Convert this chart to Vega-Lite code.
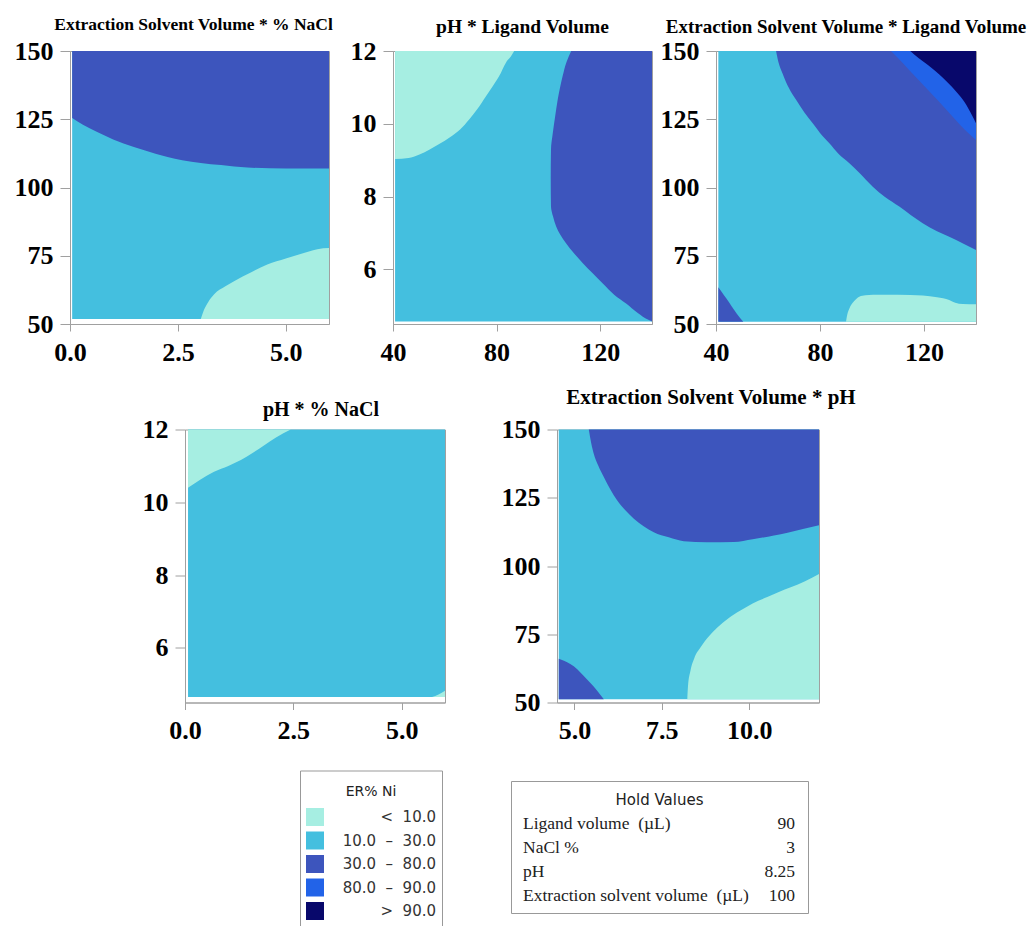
{
  "$schema": "https://vega.github.io/schema/vega-lite/v6.json",
  "padding": {"top": 15, "left": 13, "right": 3, "bottom": 0},
  "background": "white",
  "datasets": {
    "bg": [
      {"p": "p1", "level": "10-30", "x": 0.05, "x2": 6, "y": 51.8, "y2": 150},
      {"p": "p2", "level": "10-30", "x": 40.8, "x2": 140, "y": 4.57, "y2": 12},
      {"p": "p3", "level": "10-30", "x": 40.9, "x2": 140, "y": 50.85, "y2": 150},
      {"p": "p4", "level": "10-30", "x": 0.07, "x2": 6, "y": 4.65, "y2": 12},
      {"p": "p5", "level": "10-30", "x": 4.55, "x2": 12, "y": 51.2, "y2": 150}
    ],
    "v": [
      {"p": "p1", "r": "a", "level": "30-80", "x": 0.05, "y": 125.5, "y2": 150},
      {"p": "p1", "r": "a", "level": "30-80", "x": 0.3, "y": 123, "y2": 150},
      {"p": "p1", "r": "a", "level": "30-80", "x": 0.63, "y": 120.3, "y2": 150},
      {"p": "p1", "r": "a", "level": "30-80", "x": 1, "y": 117.6, "y2": 150},
      {"p": "p1", "r": "a", "level": "30-80", "x": 1.48, "y": 114.8, "y2": 150},
      {"p": "p1", "r": "a", "level": "30-80", "x": 2, "y": 112.3, "y2": 150},
      {"p": "p1", "r": "a", "level": "30-80", "x": 2.26, "y": 111.2, "y2": 150},
      {"p": "p1", "r": "a", "level": "30-80", "x": 2.6, "y": 110, "y2": 150},
      {"p": "p1", "r": "a", "level": "30-80", "x": 3.03, "y": 109, "y2": 150},
      {"p": "p1", "r": "a", "level": "30-80", "x": 3.5, "y": 108.2, "y2": 150},
      {"p": "p1", "r": "a", "level": "30-80", "x": 4.11, "y": 107.3, "y2": 150},
      {"p": "p1", "r": "a", "level": "30-80", "x": 5, "y": 107, "y2": 150},
      {"p": "p1", "r": "a", "level": "30-80", "x": 6, "y": 107, "y2": 150},
      {"p": "p1", "r": "b", "level": "<10", "x": 3.03, "y": 51.8, "y2": 51.8},
      {"p": "p1", "r": "b", "level": "<10", "x": 3.1, "y": 51.8, "y2": 55},
      {"p": "p1", "r": "b", "level": "<10", "x": 3.2, "y": 51.8, "y2": 58},
      {"p": "p1", "r": "b", "level": "<10", "x": 3.34, "y": 51.8, "y2": 60.9},
      {"p": "p1", "r": "b", "level": "<10", "x": 3.6, "y": 51.8, "y2": 63.8},
      {"p": "p1", "r": "b", "level": "<10", "x": 3.8, "y": 51.8, "y2": 65.7},
      {"p": "p1", "r": "b", "level": "<10", "x": 4.2, "y": 51.8, "y2": 69},
      {"p": "p1", "r": "b", "level": "<10", "x": 4.57, "y": 51.8, "y2": 71.8},
      {"p": "p1", "r": "b", "level": "<10", "x": 5, "y": 51.8, "y2": 74},
      {"p": "p1", "r": "b", "level": "<10", "x": 5.34, "y": 51.8, "y2": 75.6},
      {"p": "p1", "r": "b", "level": "<10", "x": 5.73, "y": 51.8, "y2": 77.4},
      {"p": "p1", "r": "b", "level": "<10", "x": 6, "y": 51.8, "y2": 77.8},

      {"p": "p2", "r": "a", "level": "<10", "x": 40.8, "y": 9.03, "y2": 12},
      {"p": "p2", "r": "a", "level": "<10", "x": 46, "y": 9.06, "y2": 12},
      {"p": "p2", "r": "a", "level": "<10", "x": 50, "y": 9.15, "y2": 12},
      {"p": "p2", "r": "a", "level": "<10", "x": 54, "y": 9.29, "y2": 12},
      {"p": "p2", "r": "a", "level": "<10", "x": 58, "y": 9.45, "y2": 12},
      {"p": "p2", "r": "a", "level": "<10", "x": 62, "y": 9.63, "y2": 12},
      {"p": "p2", "r": "a", "level": "<10", "x": 66, "y": 9.85, "y2": 12},
      {"p": "p2", "r": "a", "level": "<10", "x": 69.4, "y": 10.12, "y2": 12},
      {"p": "p2", "r": "a", "level": "<10", "x": 72.5, "y": 10.4, "y2": 12},
      {"p": "p2", "r": "a", "level": "<10", "x": 75.9, "y": 10.76, "y2": 12},
      {"p": "p2", "r": "a", "level": "<10", "x": 78.5, "y": 11.03, "y2": 12},
      {"p": "p2", "r": "a", "level": "<10", "x": 81, "y": 11.31, "y2": 12},
      {"p": "p2", "r": "a", "level": "<10", "x": 83.6, "y": 11.68, "y2": 12},
      {"p": "p2", "r": "a", "level": "<10", "x": 85.5, "y": 11.85, "y2": 12},
      {"p": "p2", "r": "a", "level": "<10", "x": 86.8, "y": 12, "y2": 12},

      {"p": "p3", "r": "a", "level": "30-80", "x": 63.1, "y": 150, "y2": 150},
      {"p": "p3", "r": "a", "level": "30-80", "x": 64, "y": 146, "y2": 150},
      {"p": "p3", "r": "a", "level": "30-80", "x": 65.6, "y": 141.8, "y2": 150},
      {"p": "p3", "r": "a", "level": "30-80", "x": 68, "y": 136.5, "y2": 150},
      {"p": "p3", "r": "a", "level": "30-80", "x": 70.8, "y": 132.1, "y2": 150},
      {"p": "p3", "r": "a", "level": "30-80", "x": 74, "y": 127.5, "y2": 150},
      {"p": "p3", "r": "a", "level": "30-80", "x": 77.2, "y": 123.5, "y2": 150},
      {"p": "p3", "r": "a", "level": "30-80", "x": 80, "y": 120, "y2": 150},
      {"p": "p3", "r": "a", "level": "30-80", "x": 83.6, "y": 116.2, "y2": 150},
      {"p": "p3", "r": "a", "level": "30-80", "x": 87, "y": 112.5, "y2": 150},
      {"p": "p3", "r": "a", "level": "30-80", "x": 91.3, "y": 108.9, "y2": 150},
      {"p": "p3", "r": "a", "level": "30-80", "x": 95, "y": 105.5, "y2": 150},
      {"p": "p3", "r": "a", "level": "30-80", "x": 100.3, "y": 100.3, "y2": 150},
      {"p": "p3", "r": "a", "level": "30-80", "x": 105, "y": 96.5, "y2": 150},
      {"p": "p3", "r": "a", "level": "30-80", "x": 110.5, "y": 93, "y2": 150},
      {"p": "p3", "r": "a", "level": "30-80", "x": 115, "y": 89.8, "y2": 150},
      {"p": "p3", "r": "a", "level": "30-80", "x": 119.5, "y": 86.9, "y2": 150},
      {"p": "p3", "r": "a", "level": "30-80", "x": 125, "y": 84, "y2": 150},
      {"p": "p3", "r": "a", "level": "30-80", "x": 129.7, "y": 82, "y2": 150},
      {"p": "p3", "r": "a", "level": "30-80", "x": 135, "y": 79.5, "y2": 150},
      {"p": "p3", "r": "a", "level": "30-80", "x": 140, "y": 77.1, "y2": 150},
      {"p": "p3", "r": "d", "level": "30-80", "x": 40.9, "y": 50.85, "y2": 63.5},
      {"p": "p3", "r": "d", "level": "30-80", "x": 42, "y": 50.85, "y2": 62},
      {"p": "p3", "r": "d", "level": "30-80", "x": 44, "y": 50.85, "y2": 59.3},
      {"p": "p3", "r": "d", "level": "30-80", "x": 46, "y": 50.85, "y2": 56.5},
      {"p": "p3", "r": "d", "level": "30-80", "x": 48, "y": 50.85, "y2": 53.8},
      {"p": "p3", "r": "d", "level": "30-80", "x": 50.5, "y": 50.85, "y2": 50.85},
      {"p": "p3", "r": "e", "level": "<10", "x": 90, "y": 50.85, "y2": 50.85},
      {"p": "p3", "r": "e", "level": "<10", "x": 90.5, "y": 50.85, "y2": 53.5},
      {"p": "p3", "r": "e", "level": "<10", "x": 91.3, "y": 50.85, "y2": 55.7},
      {"p": "p3", "r": "e", "level": "<10", "x": 93, "y": 50.85, "y2": 58.2},
      {"p": "p3", "r": "e", "level": "<10", "x": 95.1, "y": 50.85, "y2": 60},
      {"p": "p3", "r": "e", "level": "<10", "x": 97.5, "y": 50.85, "y2": 60.5},
      {"p": "p3", "r": "e", "level": "<10", "x": 100.3, "y": 50.85, "y2": 60.7},
      {"p": "p3", "r": "e", "level": "<10", "x": 110, "y": 50.85, "y2": 60.7},
      {"p": "p3", "r": "e", "level": "<10", "x": 119.5, "y": 50.85, "y2": 60.4},
      {"p": "p3", "r": "e", "level": "<10", "x": 125, "y": 50.85, "y2": 59.8},
      {"p": "p3", "r": "e", "level": "<10", "x": 129.7, "y": 50.85, "y2": 58.8},
      {"p": "p3", "r": "e", "level": "<10", "x": 132, "y": 50.85, "y2": 57.8},
      {"p": "p3", "r": "e", "level": "<10", "x": 134.9, "y": 50.85, "y2": 57.3},
      {"p": "p3", "r": "e", "level": "<10", "x": 140, "y": 50.85, "y2": 57.2},
      {"p": "p3", "r": "b", "level": "80-90", "x": 107.3, "y": 150, "y2": 150},
      {"p": "p3", "r": "b", "level": "80-90", "x": 110, "y": 147.4, "y2": 150},
      {"p": "p3", "r": "b", "level": "80-90", "x": 114, "y": 143.3, "y2": 150},
      {"p": "p3", "r": "b", "level": "80-90", "x": 118, "y": 139.3, "y2": 150},
      {"p": "p3", "r": "b", "level": "80-90", "x": 122, "y": 135.3, "y2": 150},
      {"p": "p3", "r": "b", "level": "80-90", "x": 126, "y": 131.2, "y2": 150},
      {"p": "p3", "r": "b", "level": "80-90", "x": 130, "y": 127, "y2": 150},
      {"p": "p3", "r": "b", "level": "80-90", "x": 134, "y": 122.8, "y2": 150},
      {"p": "p3", "r": "b", "level": "80-90", "x": 137, "y": 120, "y2": 150},
      {"p": "p3", "r": "b", "level": "80-90", "x": 140, "y": 117.4, "y2": 150},
      {"p": "p3", "r": "c", "level": ">90", "x": 114.7, "y": 150, "y2": 150},
      {"p": "p3", "r": "c", "level": ">90", "x": 118, "y": 147.3, "y2": 150},
      {"p": "p3", "r": "c", "level": ">90", "x": 122.7, "y": 144, "y2": 150},
      {"p": "p3", "r": "c", "level": ">90", "x": 126, "y": 141.3, "y2": 150},
      {"p": "p3", "r": "c", "level": ">90", "x": 129.1, "y": 138.5, "y2": 150},
      {"p": "p3", "r": "c", "level": ">90", "x": 132.5, "y": 135, "y2": 150},
      {"p": "p3", "r": "c", "level": ">90", "x": 135.5, "y": 131.4, "y2": 150},
      {"p": "p3", "r": "c", "level": ">90", "x": 138.7, "y": 126, "y2": 150},
      {"p": "p3", "r": "c", "level": ">90", "x": 140, "y": 123.5, "y2": 150},

      {"p": "p4", "r": "a", "level": "<10", "x": 0.07, "y": 10.4, "y2": 12},
      {"p": "p4", "r": "a", "level": "<10", "x": 0.35, "y": 10.62, "y2": 12},
      {"p": "p4", "r": "a", "level": "<10", "x": 0.67, "y": 10.84, "y2": 12},
      {"p": "p4", "r": "a", "level": "<10", "x": 1, "y": 11, "y2": 12},
      {"p": "p4", "r": "a", "level": "<10", "x": 1.29, "y": 11.16, "y2": 12},
      {"p": "p4", "r": "a", "level": "<10", "x": 1.55, "y": 11.35, "y2": 12},
      {"p": "p4", "r": "a", "level": "<10", "x": 1.83, "y": 11.57, "y2": 12},
      {"p": "p4", "r": "a", "level": "<10", "x": 2.1, "y": 11.78, "y2": 12},
      {"p": "p4", "r": "a", "level": "<10", "x": 2.44, "y": 12, "y2": 12},
      {"p": "p4", "r": "b", "level": "<10", "x": 5.7, "y": 4.65, "y2": 4.65},
      {"p": "p4", "r": "b", "level": "<10", "x": 5.85, "y": 4.65, "y2": 4.72},
      {"p": "p4", "r": "b", "level": "<10", "x": 6, "y": 4.65, "y2": 4.82},

      {"p": "p5", "r": "a", "level": "30-80", "x": 5.41, "y": 150, "y2": 150},
      {"p": "p5", "r": "a", "level": "30-80", "x": 5.48, "y": 145, "y2": 150},
      {"p": "p5", "r": "a", "level": "30-80", "x": 5.55, "y": 141.2, "y2": 150},
      {"p": "p5", "r": "a", "level": "30-80", "x": 5.68, "y": 136.8, "y2": 150},
      {"p": "p5", "r": "a", "level": "30-80", "x": 5.84, "y": 132.6, "y2": 150},
      {"p": "p5", "r": "a", "level": "30-80", "x": 6.02, "y": 128.2, "y2": 150},
      {"p": "p5", "r": "a", "level": "30-80", "x": 6.22, "y": 124.1, "y2": 150},
      {"p": "p5", "r": "a", "level": "30-80", "x": 6.45, "y": 120.5, "y2": 150},
      {"p": "p5", "r": "a", "level": "30-80", "x": 6.7, "y": 117.3, "y2": 150},
      {"p": "p5", "r": "a", "level": "30-80", "x": 6.98, "y": 114.6, "y2": 150},
      {"p": "p5", "r": "a", "level": "30-80", "x": 7.27, "y": 112.4, "y2": 150},
      {"p": "p5", "r": "a", "level": "30-80", "x": 7.7, "y": 110.5, "y2": 150},
      {"p": "p5", "r": "a", "level": "30-80", "x": 8.13, "y": 109.1, "y2": 150},
      {"p": "p5", "r": "a", "level": "30-80", "x": 8.8, "y": 108.7, "y2": 150},
      {"p": "p5", "r": "a", "level": "30-80", "x": 9.56, "y": 108.8, "y2": 150},
      {"p": "p5", "r": "a", "level": "30-80", "x": 10.1, "y": 109.8, "y2": 150},
      {"p": "p5", "r": "a", "level": "30-80", "x": 10.71, "y": 111.2, "y2": 150},
      {"p": "p5", "r": "a", "level": "30-80", "x": 11.1, "y": 112.2, "y2": 150},
      {"p": "p5", "r": "a", "level": "30-80", "x": 11.57, "y": 113.6, "y2": 150},
      {"p": "p5", "r": "a", "level": "30-80", "x": 12, "y": 114.9, "y2": 150},
      {"p": "p5", "r": "b", "level": "<10", "x": 8.23, "y": 51.2, "y2": 51.2},
      {"p": "p5", "r": "b", "level": "<10", "x": 8.25, "y": 51.2, "y2": 56},
      {"p": "p5", "r": "b", "level": "<10", "x": 8.32, "y": 51.2, "y2": 61.6},
      {"p": "p5", "r": "b", "level": "<10", "x": 8.43, "y": 51.2, "y2": 66.2},
      {"p": "p5", "r": "b", "level": "<10", "x": 8.61, "y": 51.2, "y2": 70.2},
      {"p": "p5", "r": "b", "level": "<10", "x": 8.83, "y": 51.2, "y2": 74},
      {"p": "p5", "r": "b", "level": "<10", "x": 9.09, "y": 51.2, "y2": 77.5},
      {"p": "p5", "r": "b", "level": "<10", "x": 9.4, "y": 51.2, "y2": 80.8},
      {"p": "p5", "r": "b", "level": "<10", "x": 9.75, "y": 51.2, "y2": 83.7},
      {"p": "p5", "r": "b", "level": "<10", "x": 10.1, "y": 51.2, "y2": 86.3},
      {"p": "p5", "r": "b", "level": "<10", "x": 10.52, "y": 51.2, "y2": 88.6},
      {"p": "p5", "r": "b", "level": "<10", "x": 10.85, "y": 51.2, "y2": 90.5},
      {"p": "p5", "r": "b", "level": "<10", "x": 11.19, "y": 51.2, "y2": 92.2},
      {"p": "p5", "r": "b", "level": "<10", "x": 11.6, "y": 51.2, "y2": 94.4},
      {"p": "p5", "r": "b", "level": "<10", "x": 12, "y": 51.2, "y2": 97.1},
      {"p": "p5", "r": "c", "level": "30-80", "x": 4.55, "y": 51.2, "y2": 66},
      {"p": "p5", "r": "c", "level": "30-80", "x": 4.7, "y": 51.2, "y2": 65.3},
      {"p": "p5", "r": "c", "level": "30-80", "x": 4.88, "y": 51.2, "y2": 64.1},
      {"p": "p5", "r": "c", "level": "30-80", "x": 5.08, "y": 51.2, "y2": 62.2},
      {"p": "p5", "r": "c", "level": "30-80", "x": 5.26, "y": 51.2, "y2": 59.8},
      {"p": "p5", "r": "c", "level": "30-80", "x": 5.45, "y": 51.2, "y2": 57.2},
      {"p": "p5", "r": "c", "level": "30-80", "x": 5.65, "y": 51.2, "y2": 54.3},
      {"p": "p5", "r": "c", "level": "30-80", "x": 5.84, "y": 51.2, "y2": 51.2}
    ],
    "h": [
      {"p": "p2", "r": "b", "level": "30-80", "y": 4.57, "x": 140, "x2": 140},
      {"p": "p2", "r": "b", "level": "30-80", "y": 4.6, "x": 139, "x2": 140},
      {"p": "p2", "r": "b", "level": "30-80", "y": 4.8, "x": 134.5, "x2": 140},
      {"p": "p2", "r": "b", "level": "30-80", "y": 5.06, "x": 130, "x2": 140},
      {"p": "p2", "r": "b", "level": "30-80", "y": 5.3, "x": 125.5, "x2": 140},
      {"p": "p2", "r": "b", "level": "30-80", "y": 5.61, "x": 121, "x2": 140},
      {"p": "p2", "r": "b", "level": "30-80", "y": 5.9, "x": 117, "x2": 140},
      {"p": "p2", "r": "b", "level": "30-80", "y": 6.17, "x": 113.3, "x2": 140},
      {"p": "p2", "r": "b", "level": "30-80", "y": 6.45, "x": 109.8, "x2": 140},
      {"p": "p2", "r": "b", "level": "30-80", "y": 6.72, "x": 106.8, "x2": 140},
      {"p": "p2", "r": "b", "level": "30-80", "y": 6.95, "x": 104.6, "x2": 140},
      {"p": "p2", "r": "b", "level": "30-80", "y": 7.18, "x": 103, "x2": 140},
      {"p": "p2", "r": "b", "level": "30-80", "y": 7.45, "x": 101.8, "x2": 140},
      {"p": "p2", "r": "b", "level": "30-80", "y": 7.73, "x": 101, "x2": 140},
      {"p": "p2", "r": "b", "level": "30-80", "y": 8.5, "x": 100.9, "x2": 140},
      {"p": "p2", "r": "b", "level": "30-80", "y": 9.29, "x": 101, "x2": 140},
      {"p": "p2", "r": "b", "level": "30-80", "y": 9.75, "x": 101.7, "x2": 140},
      {"p": "p2", "r": "b", "level": "30-80", "y": 10.2, "x": 102.6, "x2": 140},
      {"p": "p2", "r": "b", "level": "30-80", "y": 10.67, "x": 103.6, "x2": 140},
      {"p": "p2", "r": "b", "level": "30-80", "y": 11, "x": 104.5, "x2": 140},
      {"p": "p2", "r": "b", "level": "30-80", "y": 11.31, "x": 105.5, "x2": 140},
      {"p": "p2", "r": "b", "level": "30-80", "y": 11.7, "x": 107, "x2": 140},
      {"p": "p2", "r": "b", "level": "30-80", "y": 12, "x": 108.8, "x2": 140}
    ],
    "hold": [
      {"row": "r1", "name": "Ligand volume\u00a0\u00a0(µL)", "value": "90"},
      {"row": "r2", "name": "NaCl %", "value": "3"},
      {"row": "r3", "name": "pH", "value": "8.25"},
      {"row": "r4", "name": "Extraction solvent volume\u00a0\u00a0(µL)", "value": "100"}
    ]
  },
  "vconcat": [
    {
      "hconcat": [
        {
          "width": 259, "height": 273,
          "title": {"text": "Extraction Solvent Volume * % NaCl", "fontSize": 17.5, "offset": -9.1, "dx": -6, "anchor": "middle", "frame": "group", "baseline": "alphabetic"},
          "encoding": {
            "x": {"field": "x", "type": "quantitative", "scale": {"domain": [0, 6], "nice": false}, "axis": {"values": [0, 2.5, 5], "format": ".1f", "title": null}},
            "y": {"field": "y", "type": "quantitative", "stack": null, "scale": {"domain": [50, 150], "nice": false}, "axis": {"values": [50, 75, 100, 125, 150], "title": null}},
            "color": {"field": "level", "type": "nominal",
              "scale": {"domain": ["<10", "10-30", "30-80", "80-90", ">90"], "range": ["#a6eee2", "#44bfdf", "#3d55bd", "#2263e8", "#08086b"]},
              "legend": {"title": ["", "ER% Ni"], "labelExpr": "datum.label == '<10' ? '<\u00a0\u00a010.0' : datum.label == '10-30' ? '10.0\u00a0\u00a0–\u00a0\u00a030.0' : datum.label == '30-80' ? '30.0\u00a0\u00a0–\u00a0\u00a080.0' : datum.label == '80-90' ? '80.0\u00a0\u00a0–\u00a0\u00a090.0' : '>\u00a0\u00a090.0'"}}
          },
          "layer": [
            {"data": {"name": "bg"}, "transform": [{"filter": "datum.p == 'p1'"}], "mark": "rect", "encoding": {"x2": {"field": "x2"}, "y2": {"field": "y2"}}},
            {"data": {"name": "v"}, "transform": [{"filter": "datum.p == 'p1'"}], "mark": {"type": "area", "interpolate": "monotone"}, "encoding": {"y2": {"field": "y2"}, "detail": {"field": "r"}}}
          ]
        },
        {
          "width": 259, "height": 273,
          "title": {"text": "pH * Ligand Volume", "fontSize": 19.5, "offset": -14.5, "anchor": "middle", "frame": "group", "baseline": "alphabetic"},
          "encoding": {
            "x": {"field": "x", "type": "quantitative", "scale": {"domain": [40, 140], "nice": false}, "axis": {"values": [40, 80, 120], "title": null}},
            "y": {"field": "y", "type": "quantitative", "stack": null, "scale": {"domain": [4.5, 12], "nice": false}, "axis": {"values": [6, 8, 10, 12], "title": null}},
            "color": {"field": "level", "type": "nominal",
              "scale": {"domain": ["<10", "10-30", "30-80", "80-90", ">90"], "range": ["#a6eee2", "#44bfdf", "#3d55bd", "#2263e8", "#08086b"]},
              "legend": {"title": ["", "ER% Ni"], "labelExpr": "datum.label == '<10' ? '<\u00a0\u00a010.0' : datum.label == '10-30' ? '10.0\u00a0\u00a0–\u00a0\u00a030.0' : datum.label == '30-80' ? '30.0\u00a0\u00a0–\u00a0\u00a080.0' : datum.label == '80-90' ? '80.0\u00a0\u00a0–\u00a0\u00a090.0' : '>\u00a0\u00a090.0'"}}
          },
          "layer": [
            {"data": {"name": "bg"}, "transform": [{"filter": "datum.p == 'p2'"}], "mark": "rect", "encoding": {"x2": {"field": "x2"}, "y2": {"field": "y2"}}},
            {"data": {"name": "v"}, "transform": [{"filter": "datum.p == 'p2'"}], "mark": {"type": "area", "interpolate": "monotone"}, "encoding": {"y2": {"field": "y2"}, "detail": {"field": "r"}}},
            {"data": {"name": "h"}, "transform": [{"filter": "datum.p == 'p2'"}], "mark": {"type": "area", "orient": "horizontal", "interpolate": "monotone"}, "encoding": {"x2": {"field": "x2"}, "detail": {"field": "r"}}}
          ]
        },
        {
          "width": 260, "height": 273,
          "title": {"text": "Extraction Solvent Volume * Ligand Volume", "fontSize": 19, "offset": -13.8, "anchor": "middle", "frame": "group", "baseline": "alphabetic"},
          "encoding": {
            "x": {"field": "x", "type": "quantitative", "scale": {"domain": [40, 140], "nice": false}, "axis": {"values": [40, 80, 120], "title": null}},
            "y": {"field": "y", "type": "quantitative", "stack": null, "scale": {"domain": [50, 150], "nice": false}, "axis": {"values": [50, 75, 100, 125, 150], "title": null}},
            "color": {"field": "level", "type": "nominal",
              "scale": {"domain": ["<10", "10-30", "30-80", "80-90", ">90"], "range": ["#a6eee2", "#44bfdf", "#3d55bd", "#2263e8", "#08086b"]},
              "legend": {"title": ["", "ER% Ni"], "labelExpr": "datum.label == '<10' ? '<\u00a0\u00a010.0' : datum.label == '10-30' ? '10.0\u00a0\u00a0–\u00a0\u00a030.0' : datum.label == '30-80' ? '30.0\u00a0\u00a0–\u00a0\u00a080.0' : datum.label == '80-90' ? '80.0\u00a0\u00a0–\u00a0\u00a090.0' : '>\u00a0\u00a090.0'"}}
          },
          "layer": [
            {"data": {"name": "bg"}, "transform": [{"filter": "datum.p == 'p3'"}], "mark": "rect", "encoding": {"x2": {"field": "x2"}, "y2": {"field": "y2"}}},
            {"data": {"name": "v"}, "transform": [{"filter": "datum.p == 'p3' && (datum.r == 'a' || datum.r == 'd' || datum.r == 'e')"}], "mark": {"type": "area", "interpolate": "monotone"}, "encoding": {"y2": {"field": "y2"}, "detail": {"field": "r"}}},
            {"data": {"name": "v"}, "transform": [{"filter": "datum.p == 'p3' && datum.r == 'b'"}], "mark": {"type": "area", "interpolate": "monotone"}, "encoding": {"y2": {"field": "y2"}, "detail": {"field": "r"}}},
            {"data": {"name": "v"}, "transform": [{"filter": "datum.p == 'p3' && datum.r == 'c'"}], "mark": {"type": "area", "interpolate": "monotone"}, "encoding": {"y2": {"field": "y2"}, "detail": {"field": "r"}}}
          ]
        }
      ],
      "spacing": 64,
      "bounds": "flush"
    },
    {
      "hconcat": [
        {"width": 3, "height": 1, "view": {"stroke": null}, "data": {"values": []}, "mark": "point"},
        {
          "width": 260, "height": 273,
          "title": {"text": "pH * % NaCl", "fontSize": 20, "offset": -19.3, "dx": 6, "anchor": "middle", "frame": "group", "baseline": "alphabetic"},
          "encoding": {
            "x": {"field": "x", "type": "quantitative", "scale": {"domain": [0, 6], "nice": false}, "axis": {"values": [0, 2.5, 5], "format": ".1f", "title": null}},
            "y": {"field": "y", "type": "quantitative", "stack": null, "scale": {"domain": [4.5, 12], "nice": false}, "axis": {"values": [6, 8, 10, 12], "title": null}},
            "color": {"field": "level", "type": "nominal",
              "scale": {"domain": ["<10", "10-30", "30-80", "80-90", ">90"], "range": ["#a6eee2", "#44bfdf", "#3d55bd", "#2263e8", "#08086b"]},
              "legend": {"title": ["", "ER% Ni"], "labelExpr": "datum.label == '<10' ? '<\u00a0\u00a010.0' : datum.label == '10-30' ? '10.0\u00a0\u00a0–\u00a0\u00a030.0' : datum.label == '30-80' ? '30.0\u00a0\u00a0–\u00a0\u00a080.0' : datum.label == '80-90' ? '80.0\u00a0\u00a0–\u00a0\u00a090.0' : '>\u00a0\u00a090.0'"}}
          },
          "layer": [
            {"data": {"name": "bg"}, "transform": [{"filter": "datum.p == 'p4'"}], "mark": "rect", "encoding": {"x2": {"field": "x2"}, "y2": {"field": "y2"}}},
            {"data": {"name": "v"}, "transform": [{"filter": "datum.p == 'p4'"}], "mark": {"type": "area", "interpolate": "monotone"}, "encoding": {"y2": {"field": "y2"}, "detail": {"field": "r"}}}
          ]
        },
        {
          "width": 262, "height": 273,
          "title": {"text": "Extraction Solvent Volume * pH", "fontSize": 21, "offset": -8.6, "dx": 23, "anchor": "middle", "frame": "group", "baseline": "alphabetic"},
          "encoding": {
            "x": {"field": "x", "type": "quantitative", "scale": {"domain": [4.5, 12], "nice": false}, "axis": {"values": [5, 7.5, 10], "format": ".1f", "title": null}},
            "y": {"field": "y", "type": "quantitative", "stack": null, "scale": {"domain": [50, 150], "nice": false}, "axis": {"values": [50, 75, 100, 125, 150], "title": null}},
            "color": {"field": "level", "type": "nominal",
              "scale": {"domain": ["<10", "10-30", "30-80", "80-90", ">90"], "range": ["#a6eee2", "#44bfdf", "#3d55bd", "#2263e8", "#08086b"]},
              "legend": {"title": ["", "ER% Ni"], "labelExpr": "datum.label == '<10' ? '<\u00a0\u00a010.0' : datum.label == '10-30' ? '10.0\u00a0\u00a0–\u00a0\u00a030.0' : datum.label == '30-80' ? '30.0\u00a0\u00a0–\u00a0\u00a080.0' : datum.label == '80-90' ? '80.0\u00a0\u00a0–\u00a0\u00a090.0' : '>\u00a0\u00a090.0'"}}
          },
          "layer": [
            {"data": {"name": "bg"}, "transform": [{"filter": "datum.p == 'p5'"}], "mark": "rect", "encoding": {"x2": {"field": "x2"}, "y2": {"field": "y2"}}},
            {"data": {"name": "v"}, "transform": [{"filter": "datum.p == 'p5'"}], "mark": {"type": "area", "interpolate": "monotone"}, "encoding": {"y2": {"field": "y2"}, "detail": {"field": "r"}}}
          ]
        }
      ],
      "spacing": 112,
      "bounds": "flush"
    },
    {
      "hconcat": [
        {"width": 430.7, "height": 1, "view": {"stroke": null}, "data": {"values": []}, "mark": "point",
         "title": {"text": "\u00a0", "fontSize": 10, "baseline": "bottom", "frame": "group", "offset": -4}},
        {
          "width": 297, "height": 132,
          "view": {"stroke": "#999999", "strokeWidth": 1},
          "layer": [
            {"data": {"values": [{"row": "h", "t": "Hold Values"}]},
             "mark": {"type": "text", "font": "DejaVu Sans", "fontSize": 15, "align": "center", "baseline": "alphabetic", "color": "#222222"},
             "encoding": {"x": {"datum": 0.5, "type": "quantitative", "scale": {"domain": [0, 1]}, "axis": null}, "y": {"field": "row", "type": "ordinal", "scale": {"type": "point", "domain": ["h", "r1", "r2", "r3", "r4"], "range": [24, 119.5], "padding": 0}, "axis": null}, "text": {"field": "t"}}},
            {"data": {"name": "hold"},
             "mark": {"type": "text", "font": "Liberation Serif", "fontSize": 17.5, "align": "left", "dx": 12, "baseline": "alphabetic", "color": "#222222"},
             "encoding": {"x": {"datum": 0, "type": "quantitative", "scale": {"domain": [0, 1]}, "axis": null}, "y": {"field": "row", "type": "ordinal", "scale": {"type": "point", "domain": ["h", "r1", "r2", "r3", "r4"], "range": [24, 119.5], "padding": 0}, "axis": null}, "text": {"field": "name"}}},
            {"data": {"name": "hold"},
             "mark": {"type": "text", "font": "Liberation Serif", "fontSize": 17.5, "align": "right", "dx": -13, "baseline": "alphabetic", "color": "#222222"},
             "encoding": {"x": {"datum": 1, "type": "quantitative", "scale": {"domain": [0, 1]}, "axis": null}, "y": {"field": "row", "type": "ordinal", "scale": {"type": "point", "domain": ["h", "r1", "r2", "r3", "r4"], "range": [24, 119.5], "padding": 0}, "axis": null}, "text": {"field": "value"}}}
          ]
        }
      ],
      "spacing": 10,
      "bounds": "flush"
    }
  ],
  "spacing": 20.5,
  "config": {
    "view": {"stroke": "#a0a0a0"},
    "axis": {"labelFont": "Liberation Serif", "labelFontWeight": "bold", "labelFontSize": 26, "labelColor": "#000000", "domainColor": "#a0a0a0", "tickColor": "#a0a0a0", "grid": false, "labelFlush": false, "labelOverlap": false},
    "axisX": {"tickSize": 7, "labelPadding": 8},
    "axisY": {"tickSize": 10, "labelPadding": 7},
    "title": {"font": "Liberation Serif", "fontWeight": "bold", "fontSize": 19, "color": "#000000"},
    "legend": {"orient": "none", "legendX": 230, "legendY": 719.5, "direction": "vertical", "symbolType": "square", "symbolSize": 324, "symbolStrokeWidth": 0, "symbolOpacity": 1, "labelAlign": "right", "labelOffset": 112, "labelFont": "DejaVu Sans", "labelFontSize": 15, "labelColor": "#333333", "labelLimit": 0, "titleFont": "DejaVu Sans", "titleFontSize": 14, "titleFontWeight": "normal", "titleColor": "#222222", "titleAnchor": "middle", "titleLineHeight": 8.5, "titlePadding": 9, "padding": 6, "strokeColor": "#999999", "rowPadding": 5.5}
  }
}
